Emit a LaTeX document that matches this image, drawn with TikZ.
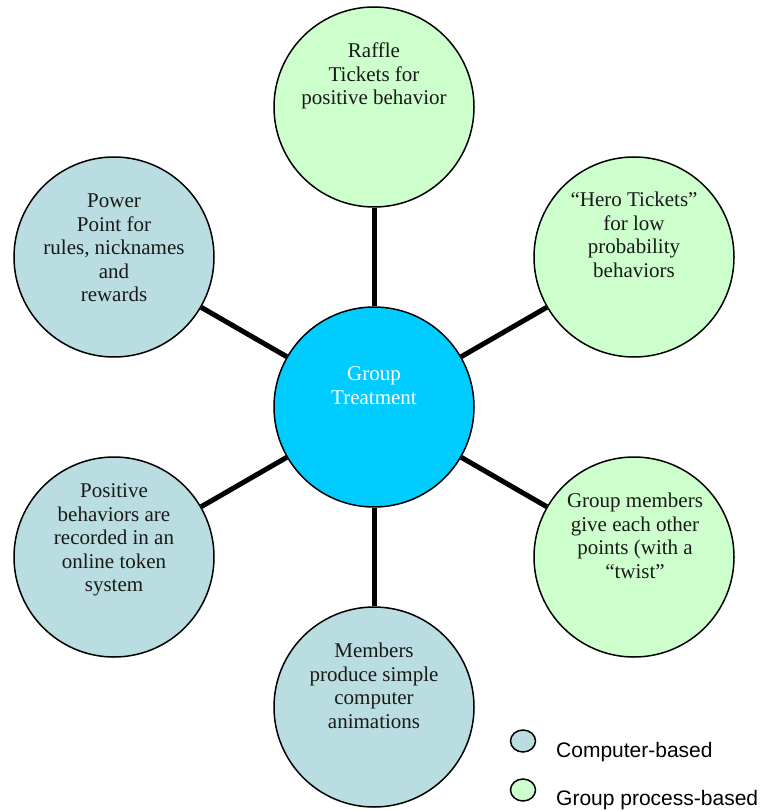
\documentclass[tikz,border=0pt]{standalone}
\usepackage{fontspec}
\setmainfont{Liberation Serif}
\newfontfamily\legendfont{Liberation Sans}
\usetikzlibrary{shapes.geometric}
\definecolor{gbase}{HTML}{CCFFCC}
\definecolor{cbase}{HTML}{B9DDE0}
\definecolor{hubcol}{HTML}{00CCFF}
\begin{document}
\begin{tikzpicture}[x=1pt,y=-1pt,
  bubble/.style={circle, draw=black, line width=1.5pt, minimum size=200pt, inner sep=0pt},
  grp/.style={bubble, fill=gbase},
  cmp/.style={bubble, fill=cbase},
  hubnode/.style={bubble, fill=hubcol},
  txt/.style={align=center, inner sep=0pt, anchor=north, text=black!90, font=\fontsize{21}{23.5}\selectfont},
  link/.style={line width=5pt},
  keyshape/.style={ellipse, draw=black, line width=1.5pt, minimum width=25pt, minimum height=22pt, inner sep=0pt},
  keytxt/.style={anchor=base west, inner sep=0pt, font=\legendfont\fontsize{21}{24}\selectfont}]
\useasboundingbox (0,0) rectangle (778,810);
% bubbles
\node[hubnode] (hub) at (374,407) {};
\node[grp] (raffle) at (374,107) {};
\node[grp] (hero) at (634,257) {};
\node[grp] (points) at (634,557) {};
\node[cmp] (anim) at (374,707) {};
\node[cmp] (token) at (114,557) {};
\node[cmp] (ppt) at (114,257) {};
% connectors
\draw[link] (hub) -- (raffle);
\draw[link] (hub) -- (hero);
\draw[link] (hub) -- (points);
\draw[link] (hub) -- (anim);
\draw[link] (hub) -- (token);
\draw[link] (hub) -- (ppt);
% texts
\node[txt, text=white] (hubtxt) at (374,364) {\strut Group\\Treatment};
\node[txt] (raffletxt) at (374,41) {\strut Raffle\\Tickets for\\positive behavior};
\node[txt] (herotxt) at (634,190) {\strut “Hero Tickets”\\for low\\probability\\behaviors};
\node[txt] (pointstxt) at (635,491) {\strut Group members\\give each other\\points (with a\\“twist”};
\node[txt] (animtxt) at (374,641) {\strut Members\\produce simple\\computer\\animations};
\node[txt] (tokentxt) at (114,481) {\strut Positive\\behaviors are\\recorded in an\\online token\\system};
\node[txt] (ppttxt) at (114,191) {\strut Power\\Point for\\rules, nicknames\\and\\rewards};
% legend
\node[keyshape, fill=cbase] (keyc) at (523,741) {};
\node[keyshape, fill=gbase] (keyg) at (523,790) {};
\node[keytxt] (keyctxt) at (556,757) {Computer-based};
\node[keytxt] (keygtxt) at (556,805) {Group process-based};
\end{tikzpicture}
\end{document}
